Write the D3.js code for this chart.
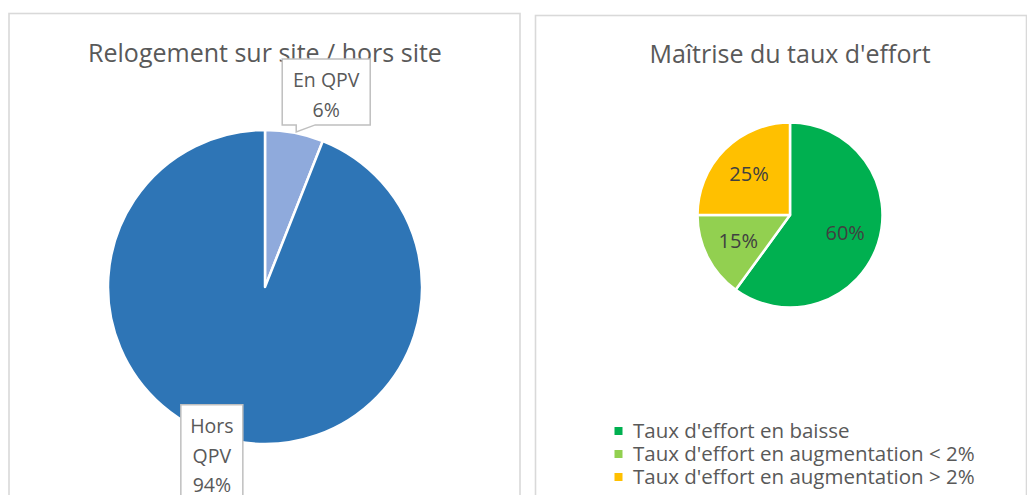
<!DOCTYPE html>
<html>
<head>
<meta charset="utf-8">
<script src="https://cdn.jsdelivr.net/npm/d3@7"></script>
<style>
  body { margin: 0; background: #fff; }
  svg { display: block; font-family: "Open Sans", "Noto Sans", sans-serif; }
</style>
</head>
<body>
<script>
const WIDTH = 1027;
const HEIGHT = 495;

// left chart
const siteTitle = "Relogement sur site / hors site";
const siteCategories = ["En QPV", "Hors QPV"];
const siteValues = [6, 94];
const siteColors = ["#8faadc", "#2e75b6"];

// right chart
const effortTitle = "Maîtrise du taux d'effort";
const effortCategories = [
  "Taux d'effort en baisse",
  "Taux d'effort en augmentation < 2%",
  "Taux d'effort en augmentation > 2%"
];
const effortValues = [60, 15, 25];
const effortColors = ["#00b050", "#92d050", "#ffc000"];

const TEXT = "#595959";
const BORDER = "#d9d9d9";
const TITLE_SIZE = 25;
const LABEL_SIZE = 19.5;
const LEGEND_SIZE = 20.5;

var svg = d3.select("body").append("svg").attr("width", WIDTH).attr("height", HEIGHT);

// chart frames
svg.append("rect").attr("x", 9).attr("y", 13.5).attr("width", 511).attr("height", 500)
  .attr("fill", "#fff").attr("stroke", BORDER).attr("stroke-width", 1.6);
svg.append("rect").attr("x", 535.5).attr("y", 15.5).attr("width", 491).attr("height", 500)
  .attr("fill", "#fff").attr("stroke", BORDER).attr("stroke-width", 1.6);

var pie = d3.pie().sort(null).value(function(d) { return d; });
function pct(d) { return Math.round(d.data) + "%"; }

/******************** left pie ********************/
svg.append("text").attr("x", 265).attr("y", 62).attr("text-anchor", "middle")
  .attr("font-size", TITLE_SIZE).attr("fill", TEXT).text(siteTitle);

var left = svg.append("g").attr("transform", "translate(265,287)");
var leftR = 157;
var leftArc = d3.arc().innerRadius(0).outerRadius(leftR);
var leftData = pie(siteValues);

left.selectAll("path").data(leftData).enter().append("path")
  .attr("d", leftArc)
  .attr("fill", function(d, i) { return siteColors[i]; })
  .attr("stroke", "#fff").attr("stroke-width", 2.5).attr("stroke-linejoin", "round");

// callouts: placed along the slice mid angle, outside the pie
var calloutPlace = [
  {dist: 198.6, dx: 24, w: 88, h: 66},
  {dist: 177, dx: -20, w: 62, h: 112}
];
leftData.forEach(function(d, i) {
  var p = calloutPlace[i];
  var a = (d.startAngle + d.endAngle) / 2;
  var cx = Math.sin(a) * p.dist + p.dx;
  var cy = -Math.cos(a) * p.dist;
  var words = i == 0 ? [siteCategories[i], pct(d)] : siteCategories[i].split(" ").concat([pct(d)]);
  var x0 = cx - p.w / 2, y0 = cy - p.h / 2;
  var box;
  if (i == 0) {
    // box with a small pointer at the bottom left toward the slice
    box = "M" + x0 + "," + y0 + "H" + (x0 + p.w) + "V" + (y0 + p.h) +
      "H" + (x0 + 33) + "L" + (x0 + 14) + "," + (y0 + p.h + 7) +
      "V" + (y0 + p.h) + "H" + x0 + "Z";
  } else {
    box = "M" + x0 + "," + y0 + "H" + (x0 + p.w) + "V" + (y0 + p.h) + "H" + x0 + "Z";
  }
  var g = left.append("g");
  g.append("path").attr("d", box).attr("fill", "#fff").attr("stroke", "#bfbfbf").attr("stroke-width", 1.5);
  var lh = 29.5;
  words.forEach(function(w, k) {
    g.append("text").attr("x", cx).attr("y", y0 + 21.5 + k * lh).attr("dy", "0.35em")
      .attr("text-anchor", "middle").attr("font-size", LABEL_SIZE).attr("fill", TEXT).text(w);
  });
});

/******************** right pie ********************/
svg.append("text").attr("x", 790).attr("y", 63).attr("text-anchor", "middle")
  .attr("font-size", TITLE_SIZE).attr("fill", TEXT).text(effortTitle);

var right = svg.append("g").attr("transform", "translate(790,215)");
var rightR = 92.5;
var rightArc = d3.arc().innerRadius(0).outerRadius(rightR);
var labelArc = d3.arc().innerRadius(58).outerRadius(58);
var rightData = pie(effortValues);

right.selectAll("path").data(rightData).enter().append("path")
  .attr("d", rightArc)
  .attr("fill", function(d, i) { return effortColors[i]; })
  .attr("stroke", "#fff").attr("stroke-width", 2.5).attr("stroke-linejoin", "round");

right.selectAll("text").data(rightData).enter().append("text")
  .attr("transform", function(d) { return "translate(" + labelArc.centroid(d) + ")"; })
  .attr("text-anchor", "middle").attr("dy", "0.35em")
  .attr("font-size", 20).attr("fill", "#404040")
  .text(pct);

// legend
var legend = svg.append("g").attr("transform", "translate(618.5,431)");
var item = legend.selectAll("g").data(effortCategories).enter().append("g")
  .attr("transform", function(d, i) { return "translate(0," + i * 23 + ")"; });
item.append("rect").attr("x", -4).attr("y", -4).attr("width", 8).attr("height", 8)
  .attr("fill", function(d, i) { return effortColors[i]; });
item.append("text").attr("x", 14.5).attr("dy", "0.35em").attr("font-size", LEGEND_SIZE)
  .attr("fill", TEXT).text(function(d) { return d; });
</script>
</body>
</html>
